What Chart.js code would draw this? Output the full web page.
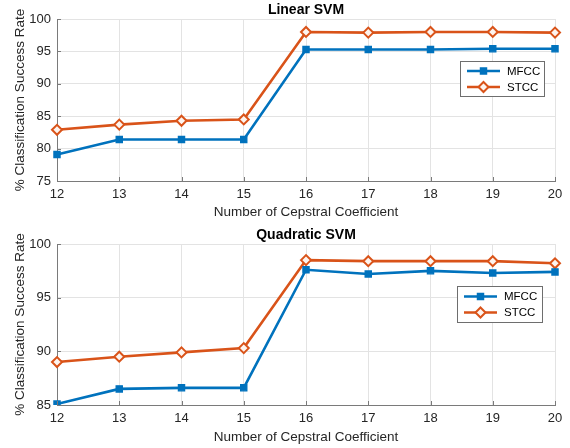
<!DOCTYPE html>
<html>
<head>
<meta charset="utf-8">
<script src="https://cdn.jsdelivr.net/npm/chart.js@4/dist/chart.umd.min.js"></script>
<style>
  html, body { margin: 0; padding: 0; background: #ffffff; }
  #wrap { position: relative; width: 570px; height: 448px; background: #fff; }
  .pane { position: absolute; left: 0; width: 570px; height: 224px; }
</style>
</head>
<body>
<div id="wrap">
  <div class="pane" style="top:0"><canvas id="c1" width="570" height="224"></canvas></div>
  <div class="pane" style="top:224px"><canvas id="c2" width="570" height="224"></canvas></div>
</div>
<script>
// ---- data ----
const categories = ['12', '13', '14', '15', '16', '17', '18', '19', '20'];
const linearMFCC = [79.1, 81.4, 81.4, 81.4, 95.3, 95.3, 95.3, 95.4, 95.4];
const linearSTCC = [82.9, 83.7, 84.3, 84.5, 98.0, 97.9, 98.0, 98.0, 97.9];
const quadMFCC = [85.1, 86.5, 86.6, 86.6, 97.6, 97.2, 97.5, 97.3, 97.4];
const quadSTCC = [89.0, 89.5, 89.9, 90.3, 98.5, 98.4, 98.4, 98.4, 98.2];
const seriesNames = ['MFCC', 'STCC'];
const titles = ['Linear SVM', 'Quadratic SVM'];
const xTitle = 'Number of Cepstral Coefficient';
const yTitle = '% Classification Success Rate';
const linearYTicks = { min: 75, max: 100, step: 5 };
const quadYTicks = { min: 85, max: 100, step: 5 };

const FONT = '"Liberation Sans", Arial, Helvetica, sans-serif';
const BLUE = '#0072BD';
const ORANGE = '#D95319';
const AXIS = '#7a7a7a';
const GRID = '#e3e3e3';
const TXT = '#262626';

function mfccDataset(values) {
  return {
    label: seriesNames[0], data: values,
    borderColor: BLUE, backgroundColor: BLUE, borderWidth: 2.6,
    pointStyle: 'rect', pointRadius: 4.3, pointBorderWidth: 1.4,
    pointBackgroundColor: BLUE, pointBorderColor: BLUE, tension: 0
  };
}
function stccDataset(values) {
  return {
    label: seriesNames[1], data: values,
    borderColor: ORANGE, backgroundColor: '#ffffff', borderWidth: 2.6,
    pointStyle: 'rectRot', pointRadius: 5, pointBorderWidth: 2,
    pointBackgroundColor: '#fdf4ef', pointBorderColor: ORANGE, tension: 0
  };
}

// plugin: title, inward tick marks, legend box
const decorPlugin = {
  id: 'decor',
  afterDraw(chart, args, opts) {
    const ctx = chart.ctx;
    const a = chart.chartArea;
    const xs = chart.scales.x, ys = chart.scales.y;
    ctx.save();
    // inward tick marks
    ctx.strokeStyle = AXIS; ctx.lineWidth = 1;
    ctx.beginPath();
    xs.ticks.forEach((t, i) => {
      const px = Math.round(xs.getPixelForTick(i)) + 0.5;
      ctx.moveTo(px, a.bottom); ctx.lineTo(px, a.bottom - 4);
    });
    ys.ticks.forEach((t) => {
      const py = Math.round(ys.getPixelForValue(t.value)) + 0.5;
      ctx.moveTo(a.left, py); ctx.lineTo(a.left + 4, py);
    });
    ctx.stroke();
    // title
    ctx.fillStyle = '#000';
    ctx.font = 'bold 14px ' + FONT;
    ctx.textAlign = 'center'; ctx.textBaseline = 'middle';
    ctx.fillText(opts.title, (a.left + a.right) / 2, opts.titleY);
    // legend
    const L = opts.legend;
    ctx.fillStyle = '#ffffff';
    ctx.fillRect(L.x, L.y, L.w, L.h);
    ctx.strokeStyle = '#6e6e6e'; ctx.lineWidth = 1;
    ctx.strokeRect(L.x + 0.5, L.y + 0.5, L.w, L.h);
    chart.data.datasets.forEach((ds, i) => {
      const cy = L.y + L.row0 + i * L.rowGap;
      const x0 = L.x + 7, x1 = L.x + 40, cx = (x0 + x1) / 2;
      ctx.strokeStyle = ds.borderColor; ctx.lineWidth = ds.borderWidth;
      ctx.beginPath(); ctx.moveTo(x0, cy); ctx.lineTo(x1, cy); ctx.stroke();
      ctx.lineWidth = ds.pointBorderWidth;
      ctx.fillStyle = ds.pointBackgroundColor; ctx.strokeStyle = ds.pointBorderColor;
      ctx.beginPath();
      const r = ds.pointRadius;
      if (ds.pointStyle === 'rect') {
        const s = Math.SQRT1_2 * r;
        ctx.rect(cx - s, cy - s, 2 * s, 2 * s);
      } else {
        ctx.moveTo(cx, cy - r); ctx.lineTo(cx + r, cy); ctx.lineTo(cx, cy + r); ctx.lineTo(cx - r, cy); ctx.closePath();
      }
      ctx.fill(); ctx.stroke();
      ctx.fillStyle = '#000';
      ctx.font = '11.5px ' + FONT;
      ctx.textAlign = 'left'; ctx.textBaseline = 'middle';
      ctx.fillText(ds.label, L.x + 47, cy + 0.5);
    });
    ctx.restore();
  }
};

function makeChart(id, mfcc, stcc, yt, title, padTop, xTitlePad, legend) {
  return new Chart(document.getElementById(id), {
    type: 'line',
    data: { labels: categories, datasets: [mfccDataset(mfcc), stccDataset(stcc)] },
    plugins: [decorPlugin],
    options: {
      responsive: false, animation: false, devicePixelRatio: 1,
      layout: { padding: { top: padTop, left: 0, right: 15, bottom: 0 } },
      plugins: {
        legend: { display: false }, tooltip: { enabled: false },
        decor: { title: title, titleY: padTop - 9, legend: legend }
      },
      scales: {
        x: {
          type: 'category', offset: false,
          grid: { color: GRID, drawTicks: false, lineWidth: 1 },
          border: { color: AXIS, width: 1 },
          ticks: { color: TXT, font: { family: FONT, size: 13 }, padding: 6, maxRotation: 0, autoSkip: false },
          title: { display: true, text: xTitle, color: TXT, font: { family: FONT, size: 13.5 }, padding: { top: 0, bottom: xTitlePad } },
          afterFit(s) { s.height = 43; }
        },
        y: {
          min: yt.min, max: yt.max,
          grid: { color: GRID, drawTicks: false, lineWidth: 1 },
          border: { color: AXIS, width: 1 },
          ticks: { stepSize: yt.step, color: TXT, font: { family: FONT, size: 13 }, padding: 6 },
          title: { display: true, text: yTitle, color: TXT, font: { family: FONT, size: 13.5 }, padding: { top: 12, bottom: 0 } },
          afterFit(s) { s.width = 57; }
        }
      }
    }
  });
}

makeChart('c1', linearMFCC, linearSTCC, linearYTicks, titles[0], 19, 4,
  { x: 460, y: 61, w: 84, h: 35, row0: 10, rowGap: 16 });
makeChart('c2', quadMFCC, quadSTCC, quadYTicks, titles[1], 20, 3,
  { x: 457, y: 62, w: 85, h: 36, row0: 10.5, rowGap: 16 });
</script>
</body>
</html>
